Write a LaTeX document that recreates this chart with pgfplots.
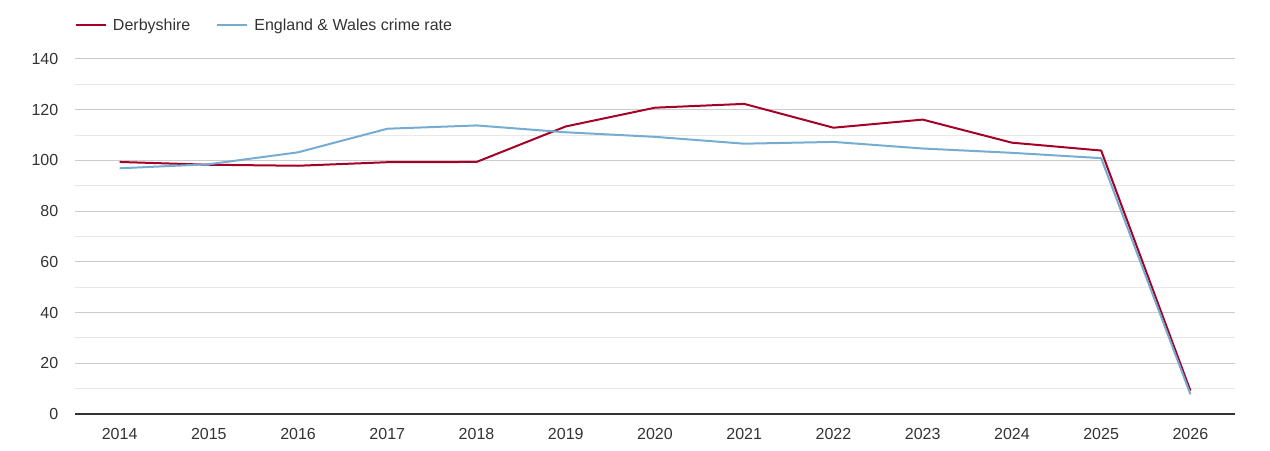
\documentclass[border=0pt]{standalone}
\usepackage{pgfplots}
\pgfplotsset{compat=1.18}
\usepackage{fontspec}
\setmainfont{Liberation Sans}
\definecolor{derby}{HTML}{A50026}
\definecolor{ew}{HTML}{74ADD1}
\definecolor{txt}{HTML}{333333}
\definecolor{majgrid}{HTML}{CCCCCC}
\definecolor{mingrid}{HTML}{E8E8E8}

\begin{document}
\begin{tikzpicture}[x=1pt,y=1pt]
  \path[use as bounding box] (-56.25,-27) rectangle (896.25,310.5);
  \begin{axis}[
      at={(0,0)}, anchor=south west,
      scale only axis,
      width=870pt, height=266.25pt,
      xmin=2013.5, xmax=2026.5,
      ymin=0, ymax=140,
      xtick={2014,2015,...,2026},
      ytick={0,20,...,140},
      minor ytick={10,30,...,130},
      ymajorgrids, yminorgrids,
      major grid style={majgrid, line width=0.75pt},
      minor grid style={mingrid, line width=0.75pt},
      axis x line*=bottom,
      axis y line*=left,
      y axis line style={draw=none},
      x axis line style={txt, line width=0.9pt, -},
      major tick length=0pt, minor tick length=0pt,
      tick style={draw=none},
      /pgf/number format/1000 sep={},
      /pgf/number format/assume math mode=true,
      ticklabel style={font=\fontsize{12}{14}\selectfont, text=txt},
      yticklabel style={xshift=-9pt},
      xticklabel style={yshift=-7pt},
      legend columns=2,
      legend style={at={(axis description cs:0,1.0958)}, anchor=west,
        draw=none, fill=none, inner sep=0pt, outer sep=0pt,
        font=\fontsize{12}{14}\selectfont, text=txt,
        /tikz/every even column/.append style={column sep=19.5pt},
        nodes={inner sep=0pt, text depth=0pt}},
      legend image code/.code={\draw[#1] (0pt,0pt) -- (22.5pt,0pt); \path (27pt,0pt);},
      clip=false,
  ]
  \addplot[derby, line width=1.5pt, line join=round] coordinates {
    (2014,99.4)(2015,98.3)(2016,97.9)(2017,99.3)(2018,99.4)(2019,113.4)
    (2020,120.8)(2021,122.3)(2022,112.9)(2023,116.1)(2024,107.0)(2025,103.9)(2026,9.2)
  };
  \addlegendentry{Derbyshire}
  \addplot[ew, line width=1.5pt, line join=round] coordinates {
    (2014,96.9)(2015,98.5)(2016,103.2)(2017,112.5)(2018,113.8)(2019,111.1)
    (2020,109.3)(2021,106.6)(2022,107.3)(2023,104.7)(2024,103.0)(2025,100.9)(2026,7.8)
  };
  \addlegendentry{England \& Wales crime rate}
  \end{axis}
\end{tikzpicture}
\end{document}
